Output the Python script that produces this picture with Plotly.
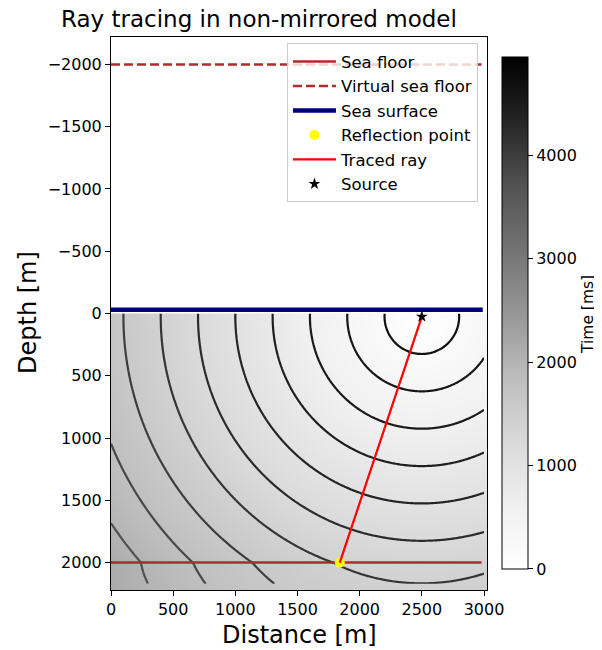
import numpy as np
import plotly.graph_objects as go

# ---- model / data values ----
SOURCE_X = [2500.0]          # m
SOURCE_Z = [25.0]            # m (depth)
REFLECT_X = [1840.0]         # m
REFLECT_Z = [2000.0]         # m
SEA_FLOOR_X = [0.0, 2980.0]
SEA_FLOOR_Z = [2000.0, 2000.0]
VIRTUAL_FLOOR_X = [0.0, 2980.0]
VIRTUAL_FLOOR_Z = [-2000.0, -2000.0]
SEA_SURFACE_X = [0.0, 2990.0]
SEA_SURFACE_Z = [-30.0, -30.0]
V_WATER = 1.5                # m/ms
V_SUB = 2.0                  # m/ms
CONTOUR_LEVELS = [200, 2000, 200]   # start, end, step (ms)
CBAR_MAX = 4950.0
CBAR_TICKS = [0, 1000, 2000, 3000, 4000]
X_TICKS = [0, 500, 1000, 1500, 2000, 2500, 3000]
Y_TICKS = [-2000, -1500, -1000, -500, 0, 500, 1000, 1500, 2000]
X_RANGE = [0, 3024]
Y_RANGE = [2220, -2220]
GRID_X_MAX = 3024.0
GRID_Z_MAX = 2220.0
CONTOUR_X_MAX = 3000.0
CONTOUR_Z_MAX = 2170.0


def travel_time(xg, zg):
    xs, zs = SOURCE_X[0], SOURCE_Z[0]
    zf = SEA_FLOOR_Z[0]
    X, Z = np.meshgrid(xg, zg)
    t = np.hypot(X - xs, Z - zs) / V_WATER
    below = Z > zf
    if below.any():
        xi = np.linspace(-500, 3500, 801)
        t1 = np.hypot(xi - xs, zf - zs) / V_WATER
        pts_x = X[below][:, None]
        pts_z = Z[below][:, None]
        t2 = np.hypot(pts_x - xi[None, :], pts_z - zf) / V_SUB
        t[below] = np.min(t1[None, :] + t2, axis=1)
    return t


# heatmap grid (cell centres)
hx = np.arange(12.0, GRID_X_MAX, 24.0)
hz = np.arange(10.0, GRID_Z_MAX, 20.0)
hT = travel_time(hx, hz)

# contour grid
cx = np.arange(0.0, CONTOUR_X_MAX + 1, 10.0)
cz = np.arange(0.0, CONTOUR_Z_MAX + 1, 10.0)
cT = travel_time(cx, cz)

greys = [
    [0.0, "#ffffff"], [0.125, "#f0f0f0"], [0.25, "#d9d9d9"], [0.375, "#bdbdbd"],
    [0.5, "#969696"], [0.625, "#737373"], [0.75, "#525252"], [0.875, "#252525"],
    [1.0, "#000000"],
]

FONT = "DejaVu Sans, Verdana, sans-serif"

fig = go.Figure()

fig.add_trace(go.Heatmap(
    x=hx, y=hz, z=hT, colorscale=greys, zmin=0, zmax=CBAR_MAX, zsmooth="best",
    hoverinfo="skip", showlegend=False,
    colorbar=dict(
        thickness=26, lenmode="pixels", len=512, x=1.04, xanchor="left", xpad=0,
        y=0.501, yanchor="middle", ypad=0,
        outlinewidth=1, outlinecolor="black",
        tickvals=CBAR_TICKS, ticks="outside", ticklen=5, tickcolor="black",
        tickfont=dict(size=16, color="black", family=FONT),
    ),
))

fig.add_trace(go.Contour(
    x=cx, y=cz, z=cT, showscale=False, showlegend=False, hoverinfo="skip",
    contours=dict(coloring="lines", start=CONTOUR_LEVELS[0], end=CONTOUR_LEVELS[1],
                  size=CONTOUR_LEVELS[2]),
    zmin=CONTOUR_LEVELS[0], zmax=CONTOUR_LEVELS[1],
    colorscale=[[0, "#111111"], [0.5, "#262626"], [1, "#505050"]],
    line=dict(width=2.2),
))

RED_BROWN = "#b22a2a"

fig.add_trace(go.Scatter(
    x=SEA_FLOOR_X, y=SEA_FLOOR_Z, mode="lines", name="Sea floor",
    line=dict(color=RED_BROWN, width=2.5), legendgroup="a",
))
fig.add_trace(go.Scatter(
    x=VIRTUAL_FLOOR_X, y=VIRTUAL_FLOOR_Z, mode="lines", name="Virtual sea floor",
    line=dict(color=RED_BROWN, width=2.5, dash="9px,4px"), legendgroup="b",
))
fig.add_trace(go.Scatter(
    x=SEA_SURFACE_X, y=SEA_SURFACE_Z, mode="lines", name="Sea surface",
    line=dict(color="#000080", width=4.5), legendgroup="c",
))
fig.add_trace(go.Scatter(
    x=REFLECT_X, y=REFLECT_Z, mode="markers", name="Reflection point",
    marker=dict(color="#ffff00", size=10, symbol="circle"), legendgroup="d",
))
fig.add_trace(go.Scatter(
    x=[SOURCE_X[0], REFLECT_X[0]], y=[SOURCE_Z[0], REFLECT_Z[0]], mode="lines",
    name="Traced ray", line=dict(color="#ff0000", width=2.2), legendgroup="e",
))
fig.add_trace(go.Scatter(
    x=SOURCE_X, y=SOURCE_Z, mode="markers", name="Source",
    marker=dict(color="black", size=9, symbol="star"), legendgroup="f",
))

axis_common = dict(
    showgrid=False, zeroline=False, showline=True, linecolor="black", linewidth=1,
    mirror=True, ticks="outside", ticklen=5, tickcolor="black", tickwidth=1,
    tickfont=dict(size=16, color="black", family=FONT),
)

# the page shows the figure offset by 8 px (body margin); size/margins compensate
fig.update_layout(
    width=594, height=642,
    margin=dict(l=103, r=115, t=29, b=60, autoexpand=False),
    paper_bgcolor="white", plot_bgcolor="white",
    font=dict(family=FONT, color="black"),
    xaxis=dict(range=X_RANGE, tickvals=X_TICKS, **axis_common),
    yaxis=dict(range=Y_RANGE, tickvals=Y_TICKS, **axis_common),
    showlegend=True,
    legend=dict(
        x=0.468, y=0.9885, xanchor="left", yanchor="top",
        bgcolor="rgba(255,255,255,0.8)", bordercolor="#cccccc", borderwidth=1,
        font=dict(size=16.5, color="black", family=FONT),
        traceorder="grouped", tracegroupgap=0, itemwidth=43,
    ),
)

# window pixel -> paper coordinates (plot area spans window x 111..487, y 37..590)
def px_to_paper(wx, wy):
    return (wx - 111) / 376.0, (590 - wy) / 553.0

annots = []
for text, wx, wy, size, angle in [
    ("Ray tracing in non-mirrored model", 259, 19, 23, 0),
    ("Distance [m]", 299, 635, 24, 0),
    ("Depth [m]", 28, 313, 24, -90),
    ("Time [ms]", 588, 315, 15.5, -90),
]:
    px, py = px_to_paper(wx, wy)
    annots.append(dict(text=text, x=px, y=py, xref="paper", yref="paper",
                       xanchor="center", yanchor="middle", showarrow=False,
                       textangle=angle,
                       font=dict(size=size, color="black", family=FONT)))
fig.update_layout(annotations=annots)

fig.write_html("out.html")
